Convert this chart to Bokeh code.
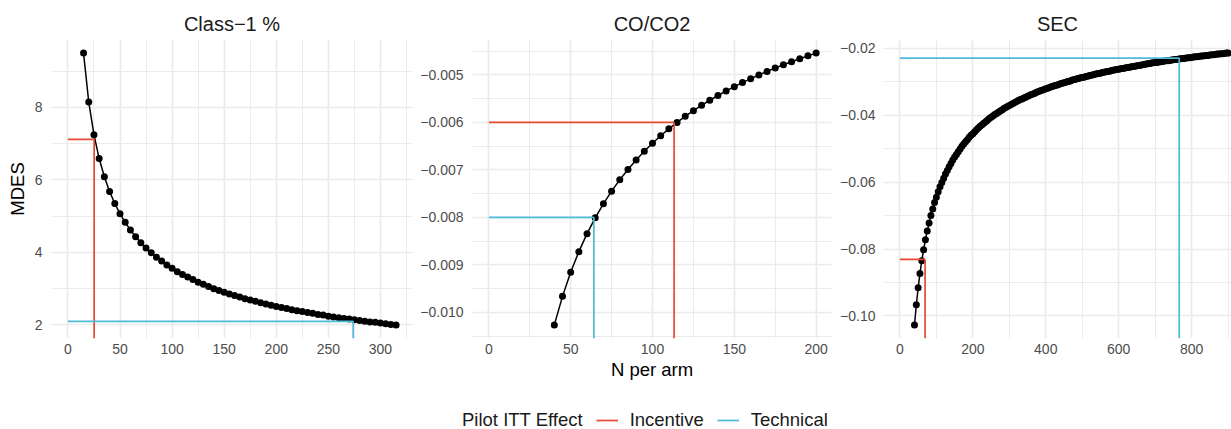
from bokeh.plotting import figure
from bokeh.models import Range1d, FixedTicker, CustomJSTickFormatter, Legend, LegendItem
from bokeh.layouts import row, column
from bokeh.embed import file_html
from bokeh.resources import INLINE

FONT = "Liberation Sans"
RED = "#E64B35"
BLUE = "#4DBBD5"
GRID = "#EBEBEB"

panel_titles = ["Class\u22121 %", "CO/CO2", "SEC"]
legend_title = "Pilot ITT Effect"
effect_labels = ["Incentive", "Technical"]
x_title = "N per arm"
y_title = "MDES"

# ---- Class-1 % ----
n_class1 = [15, 20, 25, 30, 35, 40, 45, 50, 55, 60, 65, 70, 75, 80, 85, 90, 95,
            100, 105, 110, 115, 120, 125, 130, 135, 140, 145, 150, 155, 160, 165,
            170, 175, 180, 185, 190, 195, 200, 205, 210, 215, 220, 225, 230, 235,
            240, 245, 250, 255, 260, 265, 270, 275, 280, 285, 290, 295, 300, 305,
            310, 315]
mdes_class1 = [9.50, 8.15, 7.25, 6.59, 6.09, 5.68, 5.35, 5.07, 4.83, 4.62, 4.43,
               4.27, 4.12, 3.99, 3.87, 3.76, 3.65, 3.56, 3.47, 3.39, 3.32, 3.25,
               3.18, 3.12, 3.06, 3.00, 2.95, 2.90, 2.85, 2.81, 2.77, 2.72, 2.69,
               2.65, 2.61, 2.58, 2.54, 2.51, 2.48, 2.45, 2.42, 2.39, 2.37, 2.34,
               2.32, 2.29, 2.27, 2.24, 2.22, 2.20, 2.18, 2.16, 2.14, 2.12, 2.10,
               2.08, 2.07, 2.05, 2.03, 2.01, 2.00]

# ---- CO/CO2 ----
n_co = [40, 45, 50, 55, 60, 65, 70, 75, 80, 85, 90, 95, 100, 105, 110, 115, 120,
        125, 130, 135, 140, 145, 150, 155, 160, 165, 170, 175, 180, 185, 190,
        195, 200]
mdes_co = [-0.010266, -0.009665, -0.009158, -0.008723, -0.008345, -0.008012,
           -0.007716, -0.007450, -0.007210, -0.006992, -0.006793, -0.006609,
           -0.006440, -0.006283, -0.006137, -0.006001, -0.005874, -0.005754,
           -0.005641, -0.005535, -0.005435, -0.005339, -0.005249, -0.005163,
           -0.005081, -0.005003, -0.004928, -0.004857, -0.004789, -0.004723,
           -0.004660, -0.004600, -0.004542]

# ---- SEC ----
n_sec = [40, 45, 50, 55, 60, 65, 70, 75, 80, 85, 90, 95,
         100, 105, 110, 115, 120, 125, 130, 135, 140, 145, 150, 155, 160, 165, 170, 175, 180, 185, 190, 195,
         200, 205, 210, 215, 220, 225, 230, 235, 240, 245, 250, 255, 260, 265, 270, 275, 280, 285, 290, 295,
         300, 305, 310, 315, 320, 325, 330, 335, 340, 345, 350, 355, 360, 365, 370, 375, 380, 385, 390, 395,
         400, 405, 410, 415, 420, 425, 430, 435, 440, 445, 450, 455, 460, 465, 470, 475, 480, 485, 490, 495,
         500, 505, 510, 515, 520, 525, 530, 535, 540, 545, 550, 555, 560, 565, 570, 575, 580, 585, 590, 595,
         600, 605, 610, 615, 620, 625, 630, 635, 640, 645, 650, 655, 660, 665, 670, 675, 680, 685, 690, 695,
         700, 705, 710, 715, 720, 725, 730, 735, 740, 745, 750, 755, 760, 765, 770, 775, 780, 785, 790, 795,
         800, 805, 810, 815, 820, 825, 830, 835, 840, 845, 850, 855, 860, 865, 870, 875, 880, 885, 890, 895, 900]
mdes_sec = [-0.1027, -0.0967, -0.0916, -0.0873, -0.0835, -0.0802, -0.0772, -0.0746, -0.0722, -0.0700, -0.0680, -0.0661,
            -0.0645, -0.0629, -0.0614, -0.0601, -0.0588, -0.0576, -0.0565, -0.0554, -0.0544, -0.0534, -0.0525, -0.0517, -0.0509, -0.0501, -0.0493, -0.0486, -0.0479, -0.0473, -0.0466, -0.0460,
            -0.0455, -0.0449, -0.0443, -0.0438, -0.0433, -0.0428, -0.0424, -0.0419, -0.0415, -0.0410, -0.0406, -0.0402, -0.0398, -0.0395, -0.0391, -0.0387, -0.0384, -0.0380, -0.0377, -0.0374,
            -0.0371, -0.0368, -0.0365, -0.0362, -0.0359, -0.0356, -0.0353, -0.0351, -0.0348, -0.0346, -0.0343, -0.0341, -0.0338, -0.0336, -0.0334, -0.0331, -0.0329, -0.0327, -0.0325, -0.0323,
            -0.0321, -0.0319, -0.0317, -0.0315, -0.0313, -0.0311, -0.0310, -0.0308, -0.0306, -0.0304, -0.0303, -0.0301, -0.0299, -0.0298, -0.0296, -0.0294, -0.0293, -0.0291, -0.0290, -0.0288,
            -0.0287, -0.0286, -0.0284, -0.0283, -0.0281, -0.0280, -0.0279, -0.0277, -0.0276, -0.0275, -0.0274, -0.0272, -0.0271, -0.0270, -0.0269, -0.0268, -0.0266, -0.0265, -0.0264, -0.0263,
            -0.0262, -0.0261, -0.0260, -0.0259, -0.0258, -0.0257, -0.0256, -0.0255, -0.0254, -0.0253, -0.0252, -0.0251, -0.0250, -0.0249, -0.0248, -0.0247, -0.0246, -0.0245, -0.0244, -0.0243,
            -0.0242, -0.0242, -0.0241, -0.0240, -0.0239, -0.0238, -0.0237, -0.0237, -0.0236, -0.0235, -0.0234, -0.0233, -0.0233, -0.0232, -0.0231, -0.0230, -0.0230, -0.0229, -0.0228, -0.0228,
            -0.0227, -0.0226, -0.0225, -0.0225, -0.0224, -0.0223, -0.0223, -0.0222, -0.0221, -0.0221, -0.0220, -0.0219, -0.0219, -0.0218, -0.0217, -0.0217, -0.0216, -0.0216, -0.0215, -0.0214, -0.0214]

# pilot ITT effects: (N per arm, MDES) per panel
incentive_n = [25.2, 113.2, 69.0]
incentive_mdes = [7.12, -0.0060, -0.0831]
technical_n = [273.8, 64.2, 766.0]
technical_mdes = [2.10, -0.0080, -0.0229]

# ticks
x_major = [[0, 50, 100, 150, 200, 250, 300], [0, 50, 100, 150, 200], [0, 200, 400, 600, 800]]
x_labels = [["0", "50", "100", "150", "200", "250", "300"], ["0", "50", "100", "150", "200"],
            ["0", "200", "400", "600", "800"]]
x_minor = [[25, 75, 125, 175, 225, 275, 325], [25, 75, 125, 175], [100, 300, 500, 700, 900]]
y_major = [[2, 4, 6, 8], [-0.010, -0.009, -0.008, -0.007, -0.006, -0.005],
           [-0.10, -0.08, -0.06, -0.04, -0.02]]
y_labels = [["2", "4", "6", "8"],
            ["\u22120.010", "\u22120.009", "\u22120.008", "\u22120.007", "\u22120.006", "\u22120.005"],
            ["\u22120.10", "\u22120.08", "\u22120.06", "\u22120.04", "\u22120.02"]]
y_minor = [[3, 5, 7, 9], [-0.0105, -0.0095, -0.0085, -0.0075, -0.0065, -0.0055, -0.0045],
           [-0.09, -0.07, -0.05, -0.03]]

W = 1231
H_ROW = 395
H_LEG = 429 - H_ROW
TOP = 39
FRAME_H = 299
BOTTOM = H_ROW - TOP - FRAME_H
FULL_W = 361
layout_cfg = [dict(bl=51, fw=361, br=5, ys=9), dict(bl=54, fw=360, br=5, ys=9),
              dict(bl=47, fw=348, br=0, ys=8)]

FMT = """
let best = 0;
for (let i = 0; i < tv.length; i++) {
  if (Math.abs(tv[i] - tick) < Math.abs(tv[best] - tick)) best = i;
}
return tl[best];
"""

def make_panel(i, n, mdes):
    cfg = layout_cfg[i]
    allx = n + [0, incentive_n[i], technical_n[i]]
    ally = mdes + [incentive_mdes[i], technical_mdes[i]]
    x0, x1 = min(allx), max(allx)
    sx = 0.05 * (x1 - x0)
    lo, hi = x0 - sx, x1 + sx
    hi = lo + (hi - lo) * cfg["fw"] / FULL_W
    y0, y1 = min(ally), max(ally)
    sy = 0.05 * (y1 - y0)
    ybot = y0 - sy
    p = figure(width=cfg["bl"] + cfg["fw"] + cfg["br"], height=H_ROW,
               x_range=Range1d(lo, hi), y_range=Range1d(ybot, y1 + sy),
               output_backend="svg", toolbar_location=None,
               min_border_left=cfg["bl"], min_border_right=cfg["br"],
               min_border_top=TOP, min_border_bottom=BOTTOM,
               title=panel_titles[i])
    p.outline_line_color = None
    p.background_fill_color = "white"
    p.border_fill_color = "white"
    p.title.align = "center"
    p.title.text_font = FONT
    p.title.text_font_size = "20px"
    p.title.text_font_style = "normal"
    p.title.text_color = "#1A1A1A"
    p.title.standoff = 9

    xt = FixedTicker(ticks=x_major[i], minor_ticks=x_minor[i])
    yt = FixedTicker(ticks=y_major[i], minor_ticks=y_minor[i])
    p.xaxis.ticker = xt
    p.yaxis.ticker = yt
    p.xgrid.ticker = xt
    p.ygrid.ticker = yt
    p.xaxis.formatter = CustomJSTickFormatter(args=dict(tv=x_major[i], tl=x_labels[i]), code=FMT)
    p.yaxis.formatter = CustomJSTickFormatter(args=dict(tv=y_major[i], tl=y_labels[i]), code=FMT)
    for ax in (p.xaxis, p.yaxis):
        ax.axis_line_color = None
        ax.major_tick_line_color = None
        ax.minor_tick_line_color = None
        ax.major_tick_out = 0
        ax.major_tick_in = 0
        ax.minor_tick_out = 0
        ax.minor_tick_in = 0
        ax.major_label_text_font = FONT
        ax.major_label_text_font_size = "14px"
        ax.major_label_text_color = "#4D4D4D"
        ax.axis_label_text_font = FONT
        ax.axis_label_text_font_size = "18.5px"
        ax.axis_label_text_font_style = "normal"
        ax.axis_label_text_color = "black"
    p.xaxis.major_label_standoff = 5
    p.yaxis.major_label_standoff = cfg["ys"]
    for g in (p.xgrid, p.ygrid):
        g.grid_line_color = GRID
        g.grid_line_width = 1.7
        g.minor_grid_line_color = GRID
        g.minor_grid_line_width = 1.0

    p.line(n, mdes, line_color="black", line_width=1.5)
    p.scatter(n, mdes, size=7, fill_color="black", line_color=None)
    p.segment(x0=[0, incentive_n[i]], y0=[incentive_mdes[i], incentive_mdes[i]],
              x1=[incentive_n[i], incentive_n[i]], y1=[incentive_mdes[i], ybot],
              line_color=RED, line_width=1.7)
    p.segment(x0=[0, technical_n[i]], y0=[technical_mdes[i], technical_mdes[i]],
              x1=[technical_n[i], technical_n[i]], y1=[technical_mdes[i], ybot],
              line_color=BLUE, line_width=1.7)
    return p

p1 = make_panel(0, n_class1, mdes_class1)
p2 = make_panel(1, n_co, mdes_co)
p3 = make_panel(2, n_sec, mdes_sec)

p1.yaxis.axis_label = y_title
p1.yaxis.axis_label_standoff = 4
p2.xaxis.axis_label = x_title
p2.xaxis.axis_label_standoff = 2

# legend strip: key proxies lie outside the strip's visible ranges
lf = figure(width=W, height=H_LEG, x_range=Range1d(0, W), y_range=Range1d(0, H_LEG),
            output_backend="svg", toolbar_location=None, min_border=0,
            x_axis_location=None, y_axis_location=None)
lf.outline_line_color = None
lf.xgrid.visible = False
lf.ygrid.visible = False
proxy_x = [-50, -40]
proxy_y = [-50, -50]
r_title = lf.line(x=proxy_x, y=proxy_y, line_alpha=0)
r_inc = lf.line(x=proxy_x, y=proxy_y, line_color=RED, line_width=1.7)
r_tech = lf.line(x=proxy_x, y=proxy_y, line_color=BLUE, line_width=1.7)
legend = Legend(items=[LegendItem(label=legend_title, renderers=[r_title]),
                       LegendItem(label=effect_labels[0], renderers=[r_inc]),
                       LegendItem(label=effect_labels[1], renderers=[r_tech])],
                orientation="horizontal", location=(428, -2),
                glyph_width=22, glyph_height=16, label_height=16, label_standoff=12,
                spacing=13, padding=0, margin=0,
                border_line_color=None, background_fill_alpha=0,
                label_text_font=FONT, label_text_font_size="18.5px", label_text_color="#1A1A1A")
lf.add_layout(legend)

layout = column(row(p1, p2, p3), lf)
open("out.html", "w").write(file_html(layout, INLINE))
